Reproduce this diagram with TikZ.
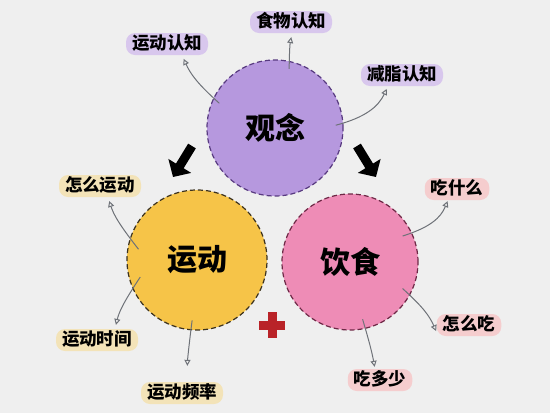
\documentclass[tikz,border=0pt]{standalone}
\usepackage{fontspec}
\setmainfont{Noto Sans CJK SC}
\usetikzlibrary{arrows.meta,positioning,calc}

\begin{document}
\begin{tikzpicture}[x=1pt, y=-1pt,
    bubble/.style={circle, dash pattern=on 5pt off 3pt, line width=1.2pt, minimum size=136pt, inner sep=0pt, font=\fontsize{30}{30}\selectfont\bfseries},
    tag/.style={rounded corners=9pt, inner xsep=6pt, inner ysep=3pt, text height=13pt, text depth=3pt, font=\fontsize{17.5}{18}\selectfont\bfseries},
    link/.style={draw=linkgray, line width=1pt, -{Triangle[open, length=6pt, width=6pt]}}]
        \definecolor{bggray}{RGB}{239,239,239}
        \definecolor{gnpurple}{RGB}{182,152,222}
        \definecolor{gnline}{RGB}{88,58,128}
        \definecolor{ydyellow}{RGB}{246,196,72}
        \definecolor{ydline}{RGB}{60,50,30}
        \definecolor{yspink}{RGB}{238,140,182}
        \definecolor{ysline}{RGB}{110,40,70}
        \definecolor{tagpurple}{RGB}{216,199,237}
        \definecolor{tagyellow}{RGB}{243,227,184}
        \definecolor{tagpink}{RGB}{245,205,206}
        \definecolor{linkgray}{RGB}{110,114,120}
        \definecolor{plusred}{RGB}{185,35,40}

        % Background
        \fill[bggray] (0,0) rectangle (550,413);
        \useasboundingbox (0,0) rectangle (550,413);

        % Three circles
        \node[bubble, fill=gnpurple, draw=gnline] (gn) at (275,128) {观念};
        \node[bubble, fill=ydyellow, draw=ydline, minimum size=140pt] (yd) at (197,260) {运动};
        \node[bubble, fill=yspink, draw=ysline] (ys) at (350,262) {饮食};

        % Labels round the purple circle
        \node[tag, fill=tagpurple] (l1) at (167,44) {运动认知};
        \node[tag, fill=tagpurple] (l2) at (291,22) {食物认知};
        \node[tag, fill=tagpurple] (l3) at (402,75) {减脂认知};

        % Labels round the yellow circle
        \node[tag, fill=tagyellow] (l4) at (100,186) {怎么运动};
        \node[tag, fill=tagyellow] (l5) at (97,340) {运动时间};
        \node[tag, fill=tagyellow] (l6) at (182,393) {运动频率};

        % Labels round the pink circle
        \node[tag, fill=tagpink] (l7) at (457,189) {吃什么};
        \node[tag, fill=tagpink] (l8) at (469,325) {怎么吃};
        \node[tag, fill=tagpink] (l9) at (380,380) {吃多少};

        % Thin arrows
        \draw[link, shorten <=-8pt, shorten >=4pt] (gn.154) to[bend left=12] ([xshift=15pt]l1.south);
        \draw[link, shorten <=-8pt, shorten >=4pt] (gn.78) to[bend left=5] ([xshift=1pt]l2.south);
        \draw[link, shorten <=-8pt, shorten >=3pt] (gn.4) to[bend right=25] ([xshift=-14pt]l3.south);
        \draw[link, shorten <=-14pt, shorten >=4pt] (yd.162) to[bend left=10] ([xshift=8pt]l4.south);
        \draw[link, shorten <=-14pt, shorten >=4pt] (yd.204) to[bend right=10] ([xshift=18pt]l5.north);
        \draw[link, shorten <=-10pt, shorten >=16pt] (yd.265) to[bend right=3] ([xshift=5pt]l6.north);
        \draw[link, shorten <=-10pt, shorten >=1pt] (ys.25) to[bend right=25] ([xshift=-9pt]l7.south);
        \draw[link, shorten <=-10pt, shorten >=1pt] (ys.331) to[bend left=12] ([yshift=-7pt]l8.west);
        \draw[link, shorten <=-10pt, shorten >=2pt] (ys.283) to[bend left=3] ([xshift=-5pt]l9.north);

        % Thick black arrows
        \coordinate (al1) at (192,146);
        \coordinate (al2) at (173,177);
        \coordinate (ar1) at (357,146);
        \coordinate (ar2) at (376,177);
        \draw[line width=9pt, -{Triangle[length=13pt, width=26pt]}] (al1) -- (al2);
        \draw[line width=9pt, -{Triangle[length=13pt, width=26pt]}] (ar1) -- (ar2);

        % Red plus
        \fill[plusred] (267.5,312) rectangle (276.5,338);
        \fill[plusred] (259,320.5) rectangle (285,329.5);
    \end{tikzpicture}
\end{document}
